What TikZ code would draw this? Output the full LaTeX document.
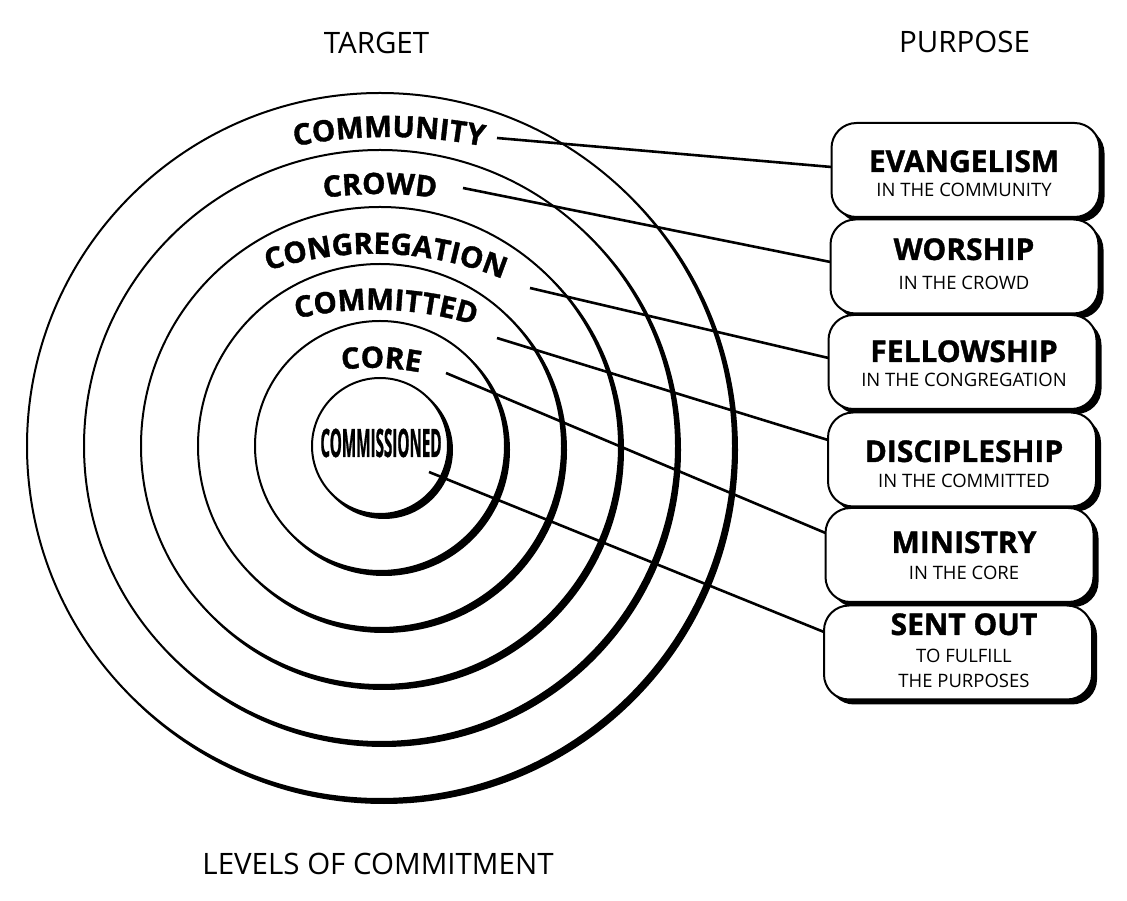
\documentclass[tikz,border=0pt]{standalone}
\usepackage{fontspec}
\setmainfont{Open Sans}
\newfontfamily\heavyfont{Open Sans}[BoldFeatures={FakeBold=1.2}]
\usetikzlibrary{calc,decorations.text,shadows}
\newcommand\curvfont{\heavyfont\fontsize{29.5}{30}\selectfont\bfseries}
\newcommand\titfont{\heavyfont\fontsize{30}{32}\selectfont\bfseries}
\newcommand\subfont{\fontsize{18.5}{20}\selectfont}
\newcommand\headfont{\fontsize{29.5}{32}\selectfont}
\begin{document}
\begin{tikzpicture}[x=1pt,y=1pt,
  ringline/.style={line width=2pt, draw=black, fill=white},
  ringshadow/.style={fill=black},
  conn/.style={line width=2.6pt, draw=black},
  purposebox/.style={draw, line width=2pt, fill=white, rounded corners=25pt,
    minimum width=268pt, minimum height=94pt, inner sep=0pt, outer sep=0pt,
    drop shadow={opacity=1, fill=black, shadow xshift=5pt, shadow yshift=-5pt}},
  titletext/.style={anchor=base, font=\titfont, inner sep=0pt},
  subtext/.style={anchor=base, font=\subfont, inner sep=0pt},
  headtext/.style={anchor=base, font=\headfont, inner sep=0pt}]
\fill[white] (0,0) rectangle (1127,900);
\useasboundingbox (0,0) rectangle (1127,900);
\coordinate (C) at (380,454);
% rings with shadows
\foreach \r in {353,296,239,182,125,68} {
  \fill[ringshadow] ($(C)+(4,-4)$) circle[radius=\r+1];
  \draw[ringline] (C) circle[radius=\r];
}
% curved labels
\path[decorate, decoration={text along path, text align=center, text={|\curvfont|COMMUNITY}}]
  ($(389,763)+(270:480)+(125:480)$) arc[start angle=125, end angle=55, radius=480];
\path[decorate, decoration={text along path, text align=center, text={|\curvfont|CROWD}}]
  ($(380,706)+(270:400)+(125:400)$) arc[start angle=125, end angle=55, radius=400];
\path[decorate, decoration={text along path, text align=center, text={|\curvfont|CONGREGATION}}]
  ($(386,646)+(268:340)+(123:340)$) arc[start angle=123, end angle=53, radius=340];
\path[decorate, decoration={text along path, text align=center, text={|\curvfont|COMMITTED}}]
  ($(386,590)+(268:340)+(123:340)$) arc[start angle=123, end angle=53, radius=340];
\path[decorate, decoration={text along path, text align=center, text={|\curvfont|CORE}}]
  ($(381,532)+(268:250)+(123:250)$) arc[start angle=123, end angle=53, radius=250];
\node[inner sep=0pt] (comm) at (381,457) {\scalebox{0.39}[1]{\heavyfont\fontsize{39}{39}\selectfont\bfseries COMMISSIONED}};
% headers
\node[headtext] (target) at (376.5,846) {TARGET};
\node[headtext] (purpose) at (964.5,847) {PURPOSE};
\node[headtext] (levels) at (378,26) {LEVELS OF COMMITMENT};
% purpose boxes
\node[purposebox] (b1) at (965.5,730) {};
\node[titletext] (t1) at (964,728) {EVANGELISM};
\node[subtext] (s1) at (964,703) {IN THE COMMUNITY};
\node[purposebox] (b2) at (964.5,633.5) {};
\node[titletext] (t2) at (964,640) {WORSHIP};
\node[subtext] (s2) at (964,610) {IN THE CROWD};
\node[purposebox] (b3) at (962.5,538) {};
\node[titletext] (t3) at (964,538) {FELLOWSHIP};
\node[subtext] (s3) at (964,513) {IN THE CONGREGATION};
\node[purposebox] (b4) at (962,440.5) {};
\node[titletext] (t4) at (964,438) {DISCIPLESHIP};
\node[subtext] (s4) at (964,412) {IN THE COMMITTED};
\node[purposebox] (b5) at (959.5,345) {};
\node[titletext] (t5) at (964,347) {MINISTRY};
\node[subtext] (s5) at (964,320) {IN THE CORE};
\node[purposebox] (b6) at (958,247.5) {};
\node[titletext] (t6) at (964,265) {SENT OUT};
\node[subtext] (s6a) at (964,237) {TO FULFILL};
\node[subtext] (s6b) at (964,212) {THE PURPOSES};
% connectors
\coordinate (l1) at (497,762);
\coordinate (l2) at (463,712);
\coordinate (l3) at (530,612);
\coordinate (l4) at (497,562);
\coordinate (l5) at (446,527);
\coordinate (l6) at (429,428);
\draw[conn] (l1) -- ([yshift=3pt]b1.west);
\draw[conn] (l2) -- ([yshift=4.5pt]b2.west);
\draw[conn] (l3) -- ([yshift=4pt]b3.west);
\draw[conn] (l4) -- ([yshift=19.5pt]b4.west);
\draw[conn] (l5) -- ([yshift=22pt]b5.west);
\draw[conn] (l6) -- ([yshift=20.5pt]b6.west);
\end{tikzpicture}
\end{document}
